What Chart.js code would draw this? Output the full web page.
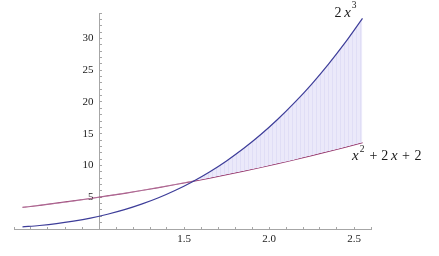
<!DOCTYPE html>
<html>
<head>
<meta charset="utf-8">
<script src="https://cdn.jsdelivr.net/npm/chart.js@4/dist/chart.umd.min.js"></script>
<style>
  html, body { margin: 0; padding: 0; background: #ffffff; }
  #wrap { width: 439px; height: 256px; }
</style>
</head>
<body>
<div id="wrap"><canvas id="c" width="439" height="256"></canvas></div>
<script>
// ---- data ----
const xValues = [0.55, 0.65, 0.75, 0.85, 0.95, 1.05, 1.15, 1.25, 1.35, 1.45, 1.55,
                 1.65, 1.75, 1.85, 1.95, 2.05, 2.15, 2.25, 2.35, 2.45, 2.55];
const cubicValues = [0.33, 0.55, 0.84, 1.23, 1.71, 2.32, 3.04, 3.91, 4.92, 6.10, 7.45,
                     8.98, 10.72, 12.66, 14.83, 17.23, 19.88, 22.78, 25.96, 29.41, 33.16];
const quadValues = [3.40, 3.72, 4.06, 4.42, 4.80, 5.20, 5.62, 6.06, 6.52, 7.00, 7.50,
                    8.02, 8.56, 9.12, 9.70, 10.30, 10.92, 11.56, 12.22, 12.90, 13.60];
const xTickLabels = ['1.5', '2.0', '2.5'];
const yTickLabels = ['5', '10', '15', '20', '25', '30'];
const seriesNames = ['2 x^3', 'x^2 + 2 x + 2'];

// ---- styling ----
const BLUE = 'rgb(61,61,153)';
const PURPLE = 'rgb(153,61,113)';
const AXIS = '#a6a6a6';
const TEXT = '#1a1a1a';
const SERIF = '"Liberation Serif", "DejaVu Serif", serif';

// vertical-stripe fill pattern
const pc = document.createElement('canvas');
pc.width = 4; pc.height = 4;
const pctx = pc.getContext('2d');
pctx.fillStyle = 'rgb(235,233,250)';
pctx.fillRect(0, 0, 4, 4);
pctx.fillStyle = 'rgb(224,222,246)';
pctx.fillRect(0, 0, 1, 4);
const stripe = document.getElementById('c').getContext('2d').createPattern(pc, 'repeat');

const toPoints = (ys) => xValues.map((x, i) => ({ x: x, y: ys[i] }));

// curve labels drawn as text at the curve ends (via the library's scales)
const curveLabels = {
  id: 'curveLabels',
  afterDatasetsDraw(chart) {
    const { ctx, scales } = chart;
    const last = xValues.length - 1;
    const ax = scales.x.getPixelForValue(xValues[last]);
    const ayTop = scales.y.getPixelForValue(cubicValues[last]);
    const ayBot = scales.y.getPixelForValue(quadValues[last]);
    const draw = (t, x, y, size, italic) => {
      ctx.font = (italic ? 'italic ' : '') + size + 'px ' + SERIF;
      ctx.fillText(t, x, y);
    };
    ctx.save();
    ctx.fillStyle = TEXT;
    ctx.textAlign = 'left';
    ctx.textBaseline = 'alphabetic';
    // 2 x^3
    const t = ayTop - 1.5;
    draw('2', ax - 28, t, 14, false);
    draw('x', ax - 18.3, t, 15, true);
    draw('3', ax - 10.8, t - 8.5, 9.5, false);
    // x^2 + 2 x + 2
    const b = ayBot + 17.7;
    draw('x', ax - 10.5, b, 15, true);
    draw('2', ax - 2.8, b - 8, 9.5, false);
    draw('+', ax + 7, b, 14, false);
    draw('2', ax + 18.8, b, 14, false);
    draw('x', ax + 28.6, b, 15, true);
    draw('+', ax + 39.5, b, 14, false);
    draw('2', ax + 52, b, 14, false);
    ctx.restore();
  }
};

new Chart(document.getElementById('c'), {
  type: 'line',
  data: {
    datasets: [
      {
        label: seriesNames[0],
        data: toPoints(cubicValues),
        borderColor: BLUE,
        borderWidth: 1.2,
        pointRadius: 0,
        cubicInterpolationMode: 'monotone',
        fill: { target: 1, above: stripe, below: 'rgba(0,0,0,0)' }
      },
      {
        label: seriesNames[1],
        data: toPoints(quadValues),
        borderColor: PURPLE,
        borderWidth: 1.2,
        pointRadius: 0,
        cubicInterpolationMode: 'monotone',
        fill: false
      }
    ]
  },
  options: {
    responsive: false,
    animation: false,
    devicePixelRatio: 1,
    layout: { padding: { left: 14, right: 68, top: 13, bottom: 27 } },
    plugins: { legend: { display: false }, tooltip: { enabled: false } },
    scales: {
      x: {
        type: 'linear',
        min: 0.5,
        max: 2.6,
        position: { y: 0 },
        border: { color: AXIS, width: 1 },
        grid: { drawOnChartArea: false, tickLength: -3, tickColor: AXIS },
        ticks: {
          stepSize: 0.1,
          autoSkip: false,
          maxRotation: 0,
          padding: 7,
          color: TEXT,
          font: { family: SERIF, size: 11 },
          callback: (v) => {
            const s = Number(v).toFixed(1);
            return xTickLabels.includes(s) ? s : '';
          }
        }
      },
      y: {
        type: 'linear',
        min: 0,
        max: 34,
        position: { x: 1 },
        border: { color: AXIS, width: 1 },
        grid: { drawOnChartArea: false, tickLength: -3, tickColor: AXIS },
        ticks: {
          stepSize: 1,
          autoSkip: false,
          padding: 4,
          color: TEXT,
          font: { family: SERIF, size: 11 },
          callback: (v) => {
            const s = String(Math.round(v));
            return yTickLabels.includes(s) ? s + '  ' : '';
          }
        }
      }
    }
  },
  plugins: [curveLabels]
});
</script>
</body>
</html>
